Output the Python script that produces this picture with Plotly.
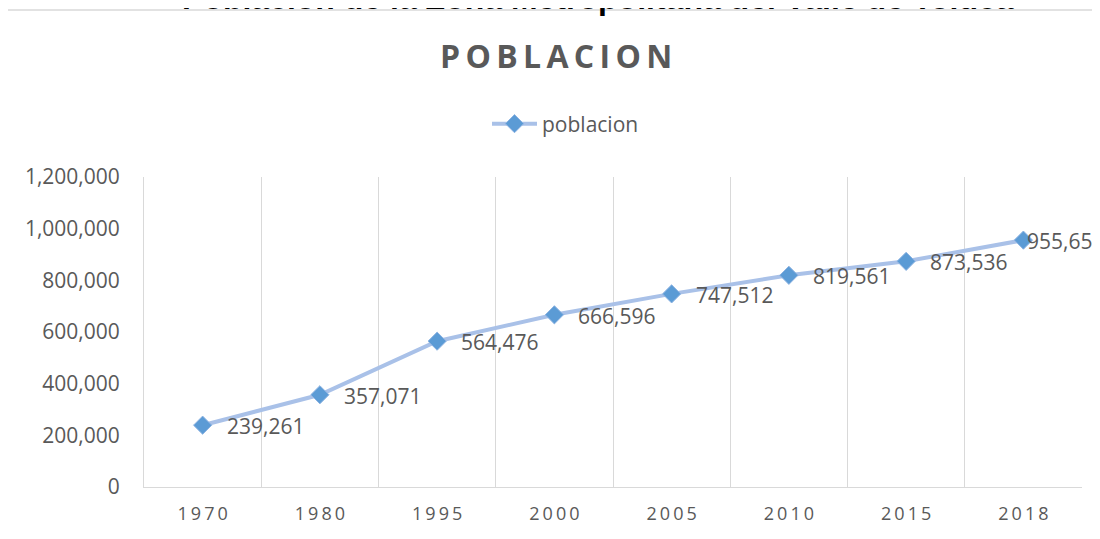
import plotly.graph_objects as go

years = ["1970", "1980", "1995", "2000", "2005", "2010", "2015", "2018"]
poblacion = [239261, 357071, 564476, 666596, 747512, 819561, 873536, 955654]
y_ticks = [0, 200000, 400000, 600000, 800000, 1000000, 1200000]

chart_title = "POBLACION"
top_title = "Población de la Zona Metropolitana del Valle de Toluca"
series_name = "poblacion"

W, H = 1100, 539
OFF = 8  # page body margin
# desired screen positions of plot area
SL, SR, ST, SB = 144, 1082, 177, 487
L = SL - OFF
T = ST - OFF
R = W - (SR - OFF)
B = H - (SB - OFF)
pw, ph = W - L - R, H - T - B

def sx(x):
    return (x - OFF - L) / pw

def sy(y):
    return (H - B - (y - OFF)) / ph

spaced_years = ["\u2009".join(list(y)) for y in years]
spaced_title = "\u2009".join(list(chart_title))

fig = go.Figure()
fig.add_trace(go.Scatter(
    x=years, y=poblacion, name=series_name,
    mode="lines+markers",
    line=dict(color="#a9c1e8", width=4),
    marker=dict(symbol="diamond", size=14, color="#5b9bd5",
                line=dict(color="#8db3e2", width=1)),
    cliponaxis=False,
))

annotations = []
for i, v in enumerate(poblacion):
    last = i == len(poblacion) - 1
    annotations.append(dict(
        x=i, y=v, xref="x", yref="y", text=f"{v:,}",
        showarrow=False, xanchor="left", yanchor="middle",
        xshift=2 if last else 22, yshift=-1,
        font=dict(family="Open Sans", size=21, color="#595959")))

annotations += [
    dict(text=spaced_title, xref="paper", yref="paper",
         x=sx(556), y=sy(55), xanchor="center", yanchor="middle",
         showarrow=False,
         font=dict(family="Open Sans", size=32, color="#595959", weight="bold")),
    dict(text=top_title, xref="paper", yref="paper",
         x=sx(598), y=sy(-2), xanchor="center", yanchor="middle",
         showarrow=False,
         font=dict(family="Liberation Sans, Arial", size=32, color="black", weight="bold")),
]

fig.update_layout(
    width=W, height=H,
    margin=dict(l=L, r=R, t=T, b=B),
    paper_bgcolor="white", plot_bgcolor="white",
    showlegend=True,
    legend=dict(orientation="h", x=sx(487), xanchor="left",
                y=sy(124), yanchor="middle", itemwidth=45,
                font=dict(family="Open Sans", size=21, color="#595959"),
                bgcolor="rgba(0,0,0,0)"),
    xaxis=dict(type="category", range=[-0.5, 7.5],
               tickmode="array", tickvals=years, ticktext=spaced_years,
               tickson="boundaries", ticks="", showgrid=True,
               gridcolor="#d9d9d9", gridwidth=1,
               showline=True, linecolor="#d9d9d9", linewidth=1,
               tickfont=dict(family="Open Sans", size=18, color="#595959"),
               ticklabelstandoff=10, zeroline=False),
    yaxis=dict(range=[0, 1200000], tickvals=y_ticks, tickformat=",",
               showgrid=False, zeroline=False, showline=True,
               linecolor="#d9d9d9", linewidth=1, ticks="",
               tickfont=dict(family="Open Sans", size=21, color="#595959"),
               ticklabelstandoff=19),
    shapes=[dict(type="rect", xref="paper", yref="paper",
                 x0=sx(7), x1=sx(1140), y0=sy(10), y1=sy(600),
                 line=dict(color="#d9d9d9", width=1.5), layer="below")],
    annotations=annotations,
)

fig.write_html("out.html")
